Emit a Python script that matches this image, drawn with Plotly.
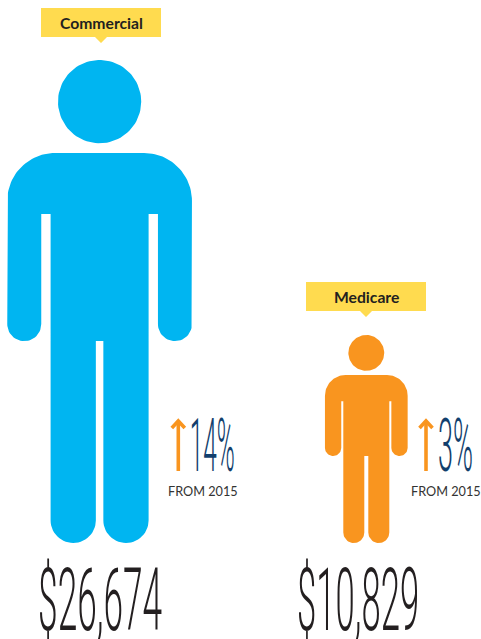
import json
import math
import plotly.graph_objects as go

plans = ["Commercial", "Medicare"]
costs = [26674, 10829]
pct_change = [14, 3]
base_year = 2015
person_heights = [483, 208]  # as drawn
person_colors = ["#00B5F1", "#F9951F"]

YELLOW = "#FFDB4F"
DARK = "#231F20"
NAVY = "#123F6D"
ORANGE = "#F9951F"

# geometry of each panel (pixels on the axes)
panels = [
    dict(cx=99.6, foot=543, body_w=184.7, arm_w=34, leg_w=98, leg_gap=7.5,
         tag_x=101, tag_top=8, pct_x=212, pct_w=45, from_x=202.5, arrow_x=178.3,
         money_x=100, money_w=124),
    dict(cx=366.3, foot=543, body_w=82.7, arm_w=16.3, leg_w=46, leg_gap=4,
         tag_x=366, tag_top=282, pct_x=455, pct_w=35, from_x=446, arrow_x=426,
         money_x=358, money_w=122),
]


def arc(cx, cy, r, a0, a1, n=28):
    return [(cx + r * math.cos(math.radians(a0 + (a1 - a0) * i / n)),
             cy + r * math.sin(math.radians(a0 + (a1 - a0) * i / n))) for i in range(n + 1)]


def person(h, p):
    cx, foot = p["cx"], p["foot"]
    top = foot - h
    xr, xl = cx + p["body_w"] / 2, cx - p["body_w"] / 2
    R = 0.099 * h
    sh = top + 0.1925 * h
    gap_top = top + 0.319 * h
    arm_end = top + 0.582 * h
    a = p["arm_w"]
    lo = p["leg_w"] / 2
    g = p["leg_gap"] / 2
    lr = (lo - g) / 2
    pts = []
    pts += arc(xr - R, sh + R, R, -90, 0)
    pts += arc(xr - a / 2, arm_end - a / 2, a / 2, 0, 180)
    pts += [(xr - a, gap_top), (cx + lo, gap_top)]
    pts += arc(cx + g + lr, foot - lr, lr, 0, 180)
    pts += [(cx + g, arm_end), (cx - g, arm_end)]
    pts += arc(cx - g - lr, foot - lr, lr, 0, 180)
    pts += [(cx - lo, gap_top), (xl + a, gap_top)]
    pts += arc(xl + a / 2, arm_end - a / 2, a / 2, 0, 180)
    pts += arc(xl + R, sh + R, R, 180, 270)
    pts.append(pts[0])
    head_r = 0.0862 * h
    head = arc(cx, top + head_r, head_r, 0, 360, 90)
    xs = [q[0] for q in pts] + [None] + [q[0] for q in head]
    ys = [q[1] for q in pts] + [None] + [q[1] for q in head]
    return xs, ys


fig = go.Figure()
annotations = []
condense = {}

for plan, cost, pct, h, col, p in zip(plans, costs, pct_change, person_heights, person_colors, panels):
    xs, ys = person(h, p)
    fig.add_trace(go.Scatter(x=xs, y=ys, mode="lines", fill="toself", fillcolor=col,
                             line=dict(width=0), hoverinfo="skip", showlegend=False))
    # callout
    t, tx = p["tag_top"], p["tag_x"]
    fig.add_trace(go.Scatter(
        x=[tx - 60, tx + 60, tx + 60, tx + 6, tx, tx - 6, tx - 60, tx - 60],
        y=[t, t, t + 29, t + 29, t + 35, t + 29, t + 29, t],
        mode="lines", fill="toself", fillcolor=YELLOW, line=dict(width=0),
        hoverinfo="skip", showlegend=False))
    annotations.append(dict(x=tx, y=t + 15, text=f"<b>{plan}</b>", showarrow=False,
                            font=dict(family="Lato", size=15.7, color=DARK)))
    # arrow
    ax = p["arrow_x"]
    fig.add_trace(go.Scatter(
        x=[ax, ax, None, ax - 6.5, ax, ax + 6.5],
        y=[471, 422, None, 428, 421, 428],
        mode="lines", line=dict(color=ORANGE, width=3.6), hoverinfo="skip", showlegend=False))
    # percent
    pct_text = f"{pct}%"
    annotations.append(dict(x=p["pct_x"], y=445, text=pct_text, showarrow=False,
                            font=dict(family="Roboto", size=75, color=NAVY, weight=300)))
    condense[pct_text] = p["pct_w"]
    annotations.append(dict(x=p["from_x"], y=491, text=f"FROM {base_year}", showarrow=False,
                            font=dict(family="Lato", size=12.7, color="#333333")))
    money = f"${cost:,}"
    annotations.append(dict(x=p["money_x"], y=600, text=money, showarrow=False,
                            font=dict(family="Roboto", size=87, color=DARK, weight=300)))
    condense[money] = p["money_w"]

fig.update_layout(
    width=481, height=639,
    margin=dict(l=0, r=0, t=0, b=0),
    paper_bgcolor="white", plot_bgcolor="white",
    xaxis=dict(range=[0, 481], visible=False, fixedrange=True),
    yaxis=dict(range=[639, 0], visible=False, fixedrange=True),
    annotations=annotations,
    showlegend=False,
)

post = """
document.body.style.margin='0';
document.documentElement.style.overflow='hidden';
var targets = %s;
function squeeze(){
  document.querySelectorAll('.annotation-text').forEach(function(t){
    var w = targets[t.textContent];
    if(!w) return;
    var b = t.getBBox();
    var c = b.x + b.width/2;
    var s = w / b.width;
    t.setAttribute('transform','translate('+c+',0) scale('+s+',1) translate('+(-c)+',0)');
  });
}
squeeze();
setTimeout(squeeze, 100);
""" % json.dumps(condense)

fig.write_html("out.html", post_script=post, config=dict(displayModeBar=False))
